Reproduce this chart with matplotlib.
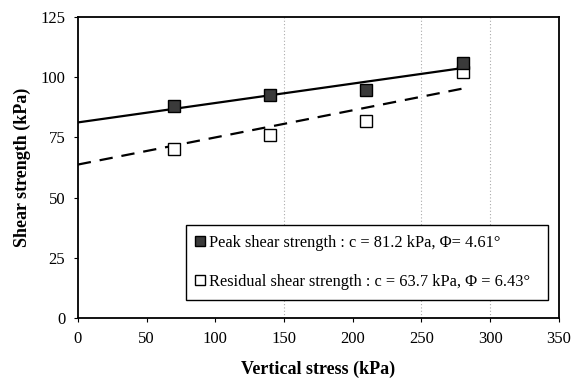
import numpy as np
import matplotlib
matplotlib.use("Agg")
import matplotlib.pyplot as plt
from matplotlib.lines import Line2D

stress = [70, 140, 210, 280]
peak = [88, 92.5, 94.5, 106]
residual = [70, 76, 82, 102]
peak_c, peak_phi = 81.2, 4.61
res_c, res_phi = 63.7, 6.43
xticks = [0, 50, 100, 150, 200, 250, 300, 350]
yticks = [0, 25, 50, 75, 100, 125]
grid_x = [150, 250, 300]

plt.rcParams['font.family'] = ['Liberation Serif', 'DejaVu Serif']

fig = plt.figure(figsize=(5.72, 3.85), dpi=100)
ax = fig.add_axes([0.136, 0.174, 0.841, 0.782])

for gx in grid_x:
    ax.axvline(gx, color='#aaaaaa', lw=0.8, ls=(0, (1, 2)), zorder=0)

xl = np.array([0, stress[-1]])
ax.plot(xl, peak_c + np.tan(np.radians(peak_phi)) * xl, color='black', lw=1.6, zorder=2)
ax.plot(xl, res_c + np.tan(np.radians(res_phi)) * xl, color='black', lw=1.6,
        ls=(0, (6, 4)), zorder=2)

ax.plot(stress, residual, ls='none', marker='s', ms=8, mfc='white', mec='black', mew=1.0, zorder=3)
ax.plot(stress, peak, ls='none', marker='s', ms=8, mfc='#3a3a3a', mec='black', mew=1.0, zorder=4)

ax.set_xlim(0, 350)
ax.set_ylim(0, 125)
ax.set_xticks(xticks)
ax.set_yticks(yticks)
ax.tick_params(direction='out', length=3, width=0.8, labelsize=12, pad=6)
for s in ax.spines.values():
    s.set_linewidth(1.3)

ax.set_xlabel('Vertical stress (kPa)', fontsize=13, fontweight='bold', labelpad=10)
ax.set_ylabel('Shear strength (kPa)', fontsize=13, fontweight='bold', labelpad=7)

handles = [
    Line2D([], [], ls='none', marker='s', ms=6.5, mfc='#3a3a3a', mec='black', mew=1.0),
    Line2D([], [], ls='none', marker='s', ms=6.5, mfc='white', mec='black', mew=1.0),
]
labels = ['Peak shear strength : c = 81.2 kPa, \u03a6= 4.61\u00b0',
          'Residual shear strength : c = 63.7 kPa, \u03a6 = 6.43\u00b0']
leg = ax.legend(handles, labels, loc='lower left', bbox_to_anchor=(0.2245, 0.06, 0.7525, 0.27),
                mode='expand', fontsize=11.8, frameon=True, fancybox=False, edgecolor='black',
                framealpha=1, handlelength=0.5, handletextpad=0.3, labelspacing=1.4,
                borderpad=0.6, borderaxespad=0)
leg.get_frame().set_linewidth(1.0)

fig.savefig('out.png', dpi=100)
